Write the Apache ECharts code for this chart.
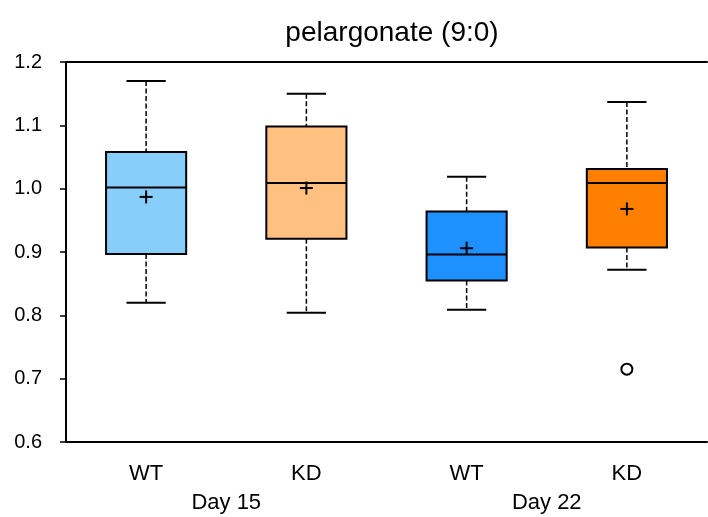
<!DOCTYPE html>
<html>
<head>
<meta charset="utf-8">
<script src="https://cdn.jsdelivr.net/npm/echarts@6/dist/echarts.min.js"></script>
<style>
  html, body { margin: 0; padding: 0; background: #fff; }
  #main { width: 708px; height: 517px; }
</style>
</head>
<body>
<div id="main"></div>
<script>
var groups = ['WT', 'KD', 'WT', 'KD'];
var days = ['Day 15', 'Day 22'];
// low whisker, Q1, median, Q3, high whisker
var boxStats = [
    [0.820, 0.897, 1.002, 1.058, 1.170],
    [0.804, 0.921, 1.009, 1.098, 1.150],
    [0.809, 0.855, 0.896, 0.964, 1.019],
    [0.872, 0.907, 1.009, 1.031, 1.137]
];
var means = [0.987, 1.001, 0.906, 0.968];
var outliers = [[3, 0.715]];
var boxColors = ['#87CEFA', '#FFC080', '#1E90FF', '#FF8000'];

var boxData = boxStats.map(function (s, i) {
    return [i].concat(s).concat([means[i]]);
});

function renderBox(params, api) {
    var i = api.value(0);
    var low = api.coord([i, api.value(1)]);
    var q1 = api.coord([i, api.value(2)]);
    var med = api.coord([i, api.value(3)]);
    var q3 = api.coord([i, api.value(4)]);
    var high = api.coord([i, api.value(5)]);
    var mean = api.coord([i, api.value(6)]);
    var band = api.size([1, 0])[0];
    var bw = band * 0.5;
    var cw = band * 0.245;
    var x = low[0];
    var dash = { stroke: '#000', lineWidth: 1.5, lineDash: [5, 2.5] };
    var solid = { stroke: '#000', lineWidth: 2 };
    return {
        type: 'group',
        children: [
            { type: 'line', shape: { x1: x, y1: high[1], x2: x, y2: q3[1] }, style: dash },
            { type: 'line', shape: { x1: x, y1: q1[1], x2: x, y2: low[1] }, style: dash },
            { type: 'line', shape: { x1: x - cw / 2, y1: high[1], x2: x + cw / 2, y2: high[1] }, style: solid },
            { type: 'line', shape: { x1: x - cw / 2, y1: low[1], x2: x + cw / 2, y2: low[1] }, style: solid },
            { type: 'rect', shape: { x: x - bw / 2, y: q3[1], width: bw, height: q1[1] - q3[1] },
              style: { fill: boxColors[i], stroke: '#000', lineWidth: 2 } },
            { type: 'line', shape: { x1: x - bw / 2, y1: med[1], x2: x + bw / 2, y2: med[1] }, style: solid },
            { type: 'line', shape: { x1: x - 6.5, y1: mean[1], x2: x + 6.5, y2: mean[1] }, style: solid },
            { type: 'line', shape: { x1: x, y1: mean[1] - 6.5, x2: x, y2: mean[1] + 6.5 }, style: solid }
        ]
    };
}

var chartDom = document.getElementById('main');
var myChart = echarts.init(chartDom);

var font = 'Liberation Sans, Arial, sans-serif';

option = {
    animation: false,
    title: {
        text: 'pelargonate (9:0)',
        left: 387,
        textAlign: 'center',
        top: 14,
        textStyle: { fontFamily: font, fontSize: 28, fontWeight: 'normal', color: '#000' }
    },
    grid: { left: 66, right: 1, top: 62, bottom: 75 },
    xAxis: [
        {
            type: 'category',
            data: groups,
            position: 'bottom',
            axisLine: { lineStyle: { color: '#000', width: 2 } },
            axisTick: { alignWithLabel: true, length: 9, lineStyle: { color: '#000', width: 1.5 } },
            axisLabel: { color: '#000', fontFamily: font, fontSize: 22, margin: 21 },
            splitLine: { show: false }
        },
        {
            type: 'category',
            data: days,
            position: 'bottom',
            offset: 29,
            axisLine: { show: false },
            axisTick: { show: false },
            axisLabel: { color: '#000', fontFamily: font, fontSize: 22, margin: 21 }
        },
        {
            type: 'category',
            data: groups,
            position: 'top',
            axisLine: { lineStyle: { color: '#000', width: 2 } },
            axisTick: { show: false },
            axisLabel: { show: false }
        }
    ],
    yAxis: {
        type: 'value',
        min: 0.6,
        max: 1.2,
        interval: 0.1,
        axisLine: { show: true, lineStyle: { color: '#000', width: 2 } },
        axisTick: { show: true, length: 6, lineStyle: { color: '#000', width: 1.5 } },
        axisLabel: {
            color: '#000', fontFamily: font, fontSize: 20, margin: 24,
            formatter: function (v) { return v.toFixed(1); }
        },
        splitLine: { show: false }
    },
    series: [
        {
            type: 'custom',
            xAxisIndex: 0,
            renderItem: renderBox,
            encode: { x: 0, y: [1, 2, 3, 4, 5, 6] },
            data: boxData,
            z: 2
        },
        {
            type: 'scatter',
            xAxisIndex: 0,
            symbol: 'circle',
            symbolSize: 11,
            itemStyle: { color: '#fff', borderColor: '#000', borderWidth: 2, opacity: 1 },
            data: outliers,
            z: 3
        }
    ]
};

myChart.setOption(option);
</script>
</body>
</html>
